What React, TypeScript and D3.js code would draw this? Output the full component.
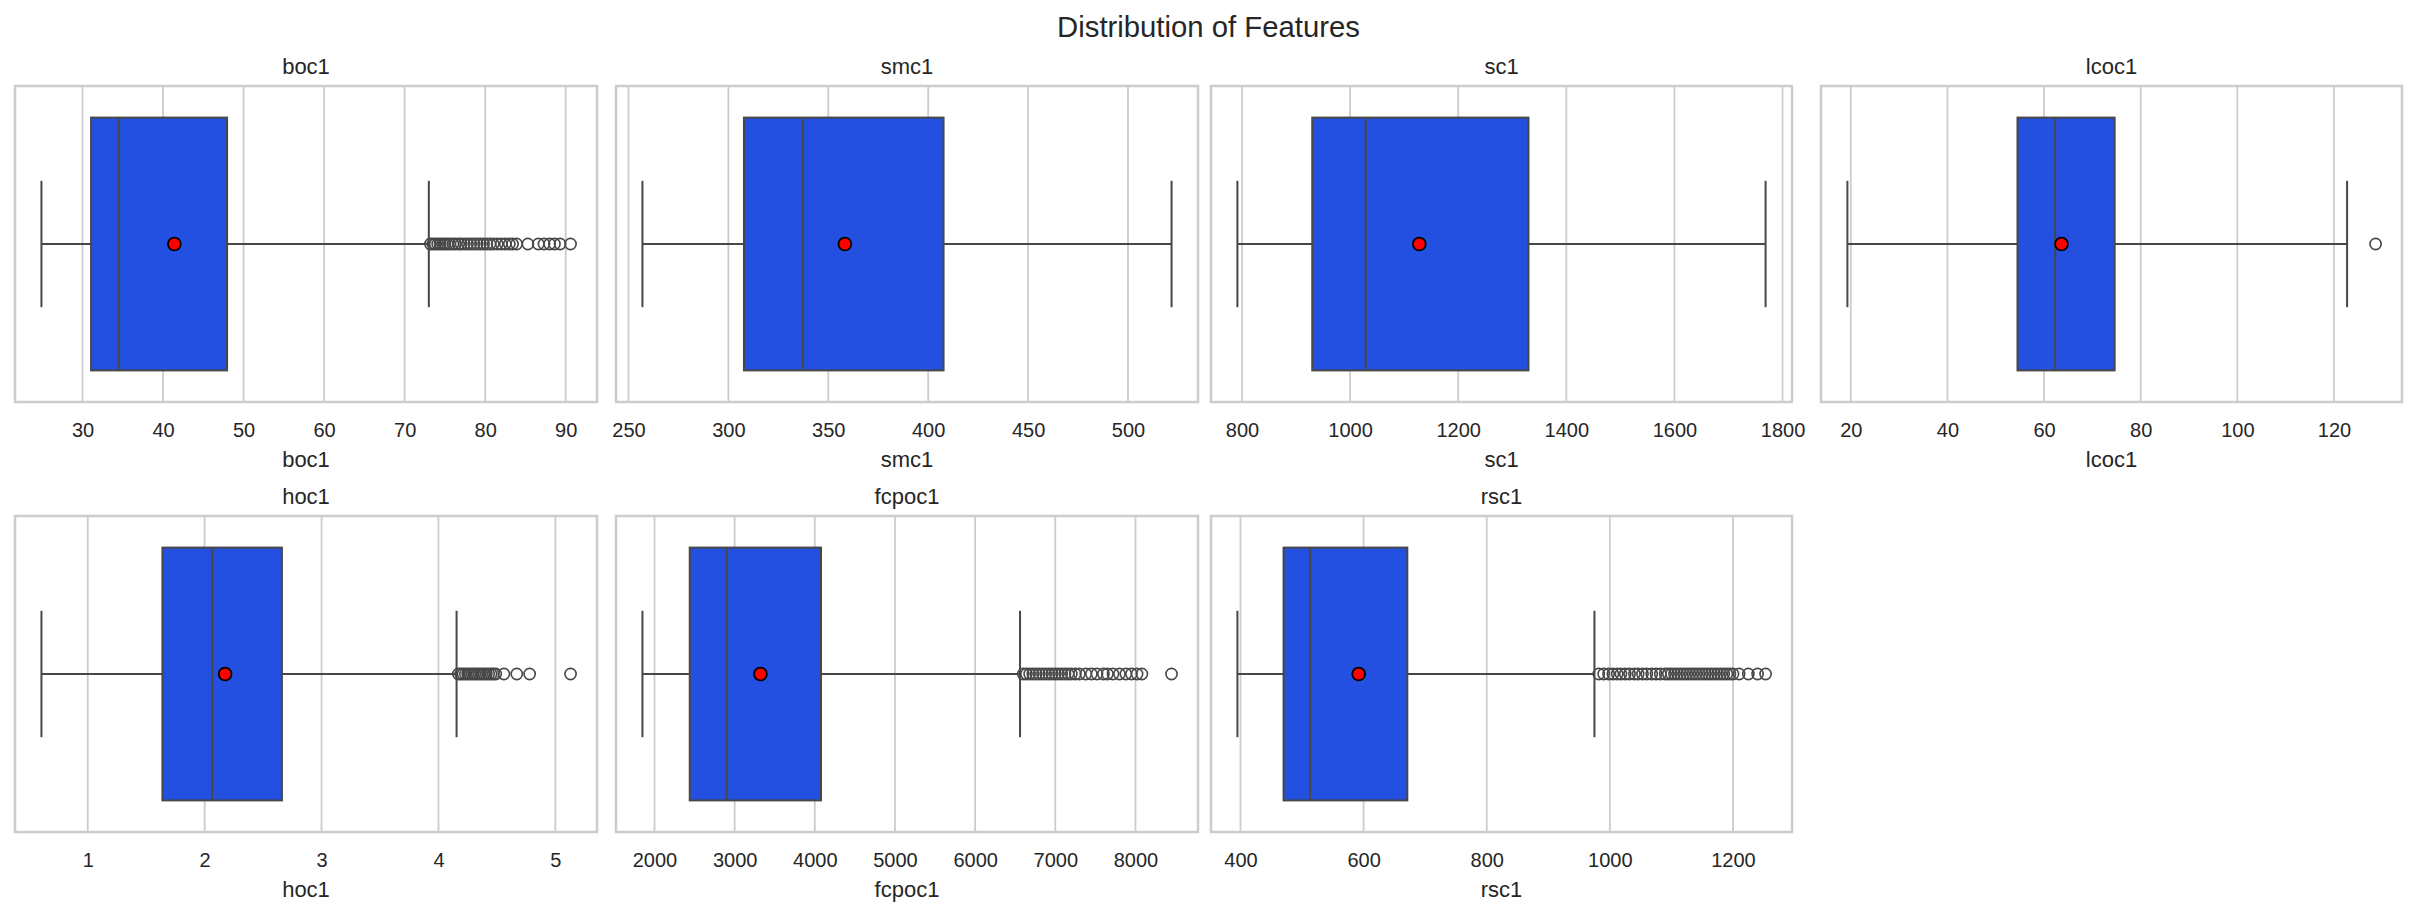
import React, { useEffect, useRef } from 'react';
import * as d3 from 'd3';

// ---- data ----
const features = ['boc1', 'smc1', 'sc1', 'lcoc1', 'hoc1', 'fcpoc1', 'rsc1'];
const whiskerLow = [24.9, 257, 791.5, 19.3, 0.604, 1850, 395];
const q1 = [31.06, 307.8, 930, 54.5, 1.639, 2440, 470];
const medians = [34.5, 337.3, 1029, 62.3, 2.065, 2900, 513];
const q3 = [47.95, 407.7, 1330, 74.6, 2.661, 4077, 671];
const whiskerHigh = [73.0, 521.8, 1768.7, 122.7, 4.155, 6560, 975];
const means = [41.4, 358.3, 1128, 63.6, 2.175, 3322, 592];

const outliersBoc1 = [73.2, 73.5, 73.8, 74.1, 74.4, 74.7, 75.0, 75.3, 75.6, 76.0, 76.3, 76.7, 77.0, 77.4, 77.8, 78.2, 78.6, 79.0, 79.4, 79.8, 80.2, 80.6, 81.0, 81.5, 82.0, 82.5, 83.0, 83.4, 83.9, 85.3, 86.6, 87.3, 88.0, 88.6, 89.3, 90.6];
const outliersSmc1: number[] = [];
const outliersSc1: number[] = [];
const outliersLcoc1 = [128.6];
const outliersHoc1 = [4.17, 4.19, 4.21, 4.23, 4.25, 4.27, 4.29, 4.31, 4.33, 4.35, 4.37, 4.39, 4.41, 4.43, 4.45, 4.47, 4.49, 4.56, 4.67, 4.78, 5.13];
const outliersFcpoc1 = [6600, 6640, 6680, 6720, 6760, 6800, 6840, 6880, 6920, 6960, 7000, 7040, 7080, 7120, 7160, 7200, 7250, 7300, 7380, 7450, 7520, 7600, 7650, 7720, 7800, 7880, 7950, 8020, 8080, 8450];
const outliersRsc1 = [982, 990, 998, 1005, 1012, 1018, 1025, 1032, 1040, 1046, 1053, 1060, 1068, 1075, 1082, 1090, 1095, 1100, 1105, 1110, 1115, 1120, 1125, 1130, 1135, 1140, 1145, 1150, 1155, 1160, 1165, 1170, 1175, 1180, 1185, 1190, 1195, 1200, 1210, 1225, 1240, 1253];
const outliers = [outliersBoc1, outliersSmc1, outliersSc1, outliersLcoc1, outliersHoc1, outliersFcpoc1, outliersRsc1];

const ticksBoc1 = [30, 40, 50, 60, 70, 80, 90];
const ticksSmc1 = [250, 300, 350, 400, 450, 500];
const ticksSc1 = [800, 1000, 1200, 1400, 1600, 1800];
const ticksLcoc1 = [20, 40, 60, 80, 100, 120];
const ticksHoc1 = [1, 2, 3, 4, 5];
const ticksFcpoc1 = [2000, 3000, 4000, 5000, 6000, 7000, 8000];
const ticksRsc1 = [400, 600, 800, 1000, 1200];
const ticks = [ticksBoc1, ticksSmc1, ticksSc1, ticksLcoc1, ticksHoc1, ticksFcpoc1, ticksRsc1];

const suptitle = 'Distribution of Features';

// ---- layout ----
const W = 2417;
const H = 917;
const colX = [[15, 597], [616, 1198], [1211, 1792], [1821, 2402]];
const rowY = [[86, 402], [516, 832]];
const FONT = '"Liberation Sans", Arial, Helvetica, sans-serif';
const TEXT = '#262626';
const GRID = '#cccccc';
const BOX_FILL = '#2350e0';
const LINE = '#474747';

export default function App() {
  const ref = useRef<SVGSVGElement>(null);

  useEffect(() => {
    const svg = d3.select(ref.current);
    svg.selectAll('*').remove();

    svg.append('rect').attr('width', W).attr('height', H).attr('fill', '#ffffff');

    svg.append('text')
      .attr('x', W / 2).attr('y', 37)
      .attr('text-anchor', 'middle')
      .attr('font-family', FONT).attr('font-size', 29.3)
      .attr('fill', TEXT)
      .text(suptitle);

    features.forEach((name, i) => {
      const row = i < 4 ? 0 : 1;
      const col = i < 4 ? i : i - 4;
      const [x0, x1] = colX[col];
      const [y0, y1] = rowY[row];
      const outs = outliers[i];
      const lo = Math.min(whiskerLow[i], ...(outs.length ? outs : [whiskerLow[i]]));
      const hi = Math.max(whiskerHigh[i], ...(outs.length ? outs : [whiskerHigh[i]]));
      const pad = (hi - lo) * 0.05;
      const x = d3.scaleLinear().domain([lo - pad, hi + pad]).range([x0, x1]);
      const y = d3.scaleLinear().domain([-0.5, 0.5]).range([y0, y1]);

      const g = svg.append('g');

      // grid
      g.selectAll('line.grid')
        .data(ticks[i])
        .join('line')
        .attr('class', 'grid')
        .attr('x1', (d) => x(d)).attr('x2', (d) => x(d))
        .attr('y1', y0).attr('y2', y1)
        .attr('stroke', GRID).attr('stroke-width', 1.8);

      const cy = y(0);
      const capTop = y(-0.2);
      const capBot = y(0.2);

      // whiskers
      const whisk = [[whiskerLow[i], q1[i]], [q3[i], whiskerHigh[i]]];
      g.selectAll('line.whisker')
        .data(whisk)
        .join('line')
        .attr('x1', (d) => x(d[0])).attr('x2', (d) => x(d[1]))
        .attr('y1', cy).attr('y2', cy)
        .attr('stroke', LINE).attr('stroke-width', 2);
      g.selectAll('line.cap')
        .data([whiskerLow[i], whiskerHigh[i]])
        .join('line')
        .attr('x1', (d) => x(d)).attr('x2', (d) => x(d))
        .attr('y1', capTop).attr('y2', capBot)
        .attr('stroke', LINE).attr('stroke-width', 2);

      // box
      g.append('rect')
        .attr('x', x(q1[i])).attr('width', x(q3[i]) - x(q1[i]))
        .attr('y', y(-0.4)).attr('height', y(0.4) - y(-0.4))
        .attr('fill', BOX_FILL).attr('stroke', LINE).attr('stroke-width', 2);

      // median
      g.append('line')
        .attr('x1', x(medians[i])).attr('x2', x(medians[i]))
        .attr('y1', y(-0.4)).attr('y2', y(0.4))
        .attr('stroke', LINE).attr('stroke-width', 2);

      // outliers
      g.selectAll('circle.out')
        .data(outs)
        .join('circle')
        .attr('cx', (d) => x(d)).attr('cy', cy).attr('r', 5.6)
        .attr('fill', 'none').attr('stroke', LINE).attr('stroke-width', 1.6);

      // mean
      g.append('circle')
        .attr('cx', x(means[i])).attr('cy', cy).attr('r', 6.4)
        .attr('fill', '#ff0000').attr('stroke', '#000000').attr('stroke-width', 1.8);

      // frame
      g.append('rect')
        .attr('x', x0).attr('y', y0)
        .attr('width', x1 - x0).attr('height', y1 - y0)
        .attr('fill', 'none').attr('stroke', GRID).attr('stroke-width', 2.5);

      // axis tick labels
      const axis = d3.axisBottom(x).tickValues(ticks[i]).tickSize(0).tickPadding(20.8)
        .tickFormat((d) => String(d));
      const ag = g.append('g').attr('transform', `translate(0,${y1})`).call(axis);
      ag.select('.domain').remove();
      ag.selectAll('text')
        .attr('font-family', FONT).attr('font-size', 20).attr('fill', TEXT);

      // subplot title
      g.append('text')
        .attr('x', (x0 + x1) / 2).attr('y', y0 - 12)
        .attr('text-anchor', 'middle')
        .attr('font-family', FONT).attr('font-size', 22).attr('fill', TEXT)
        .text(name);

      // x label
      g.append('text')
        .attr('x', (x0 + x1) / 2).attr('y', y1 + 65)
        .attr('text-anchor', 'middle')
        .attr('font-family', FONT).attr('font-size', 22).attr('fill', TEXT)
        .text(name);
    });
  }, []);

  return (
    <svg
      ref={ref}
      width={W}
      height={H}
      style={{ position: 'absolute', left: 0, top: 0, display: 'block' }}
    />
  );
}
